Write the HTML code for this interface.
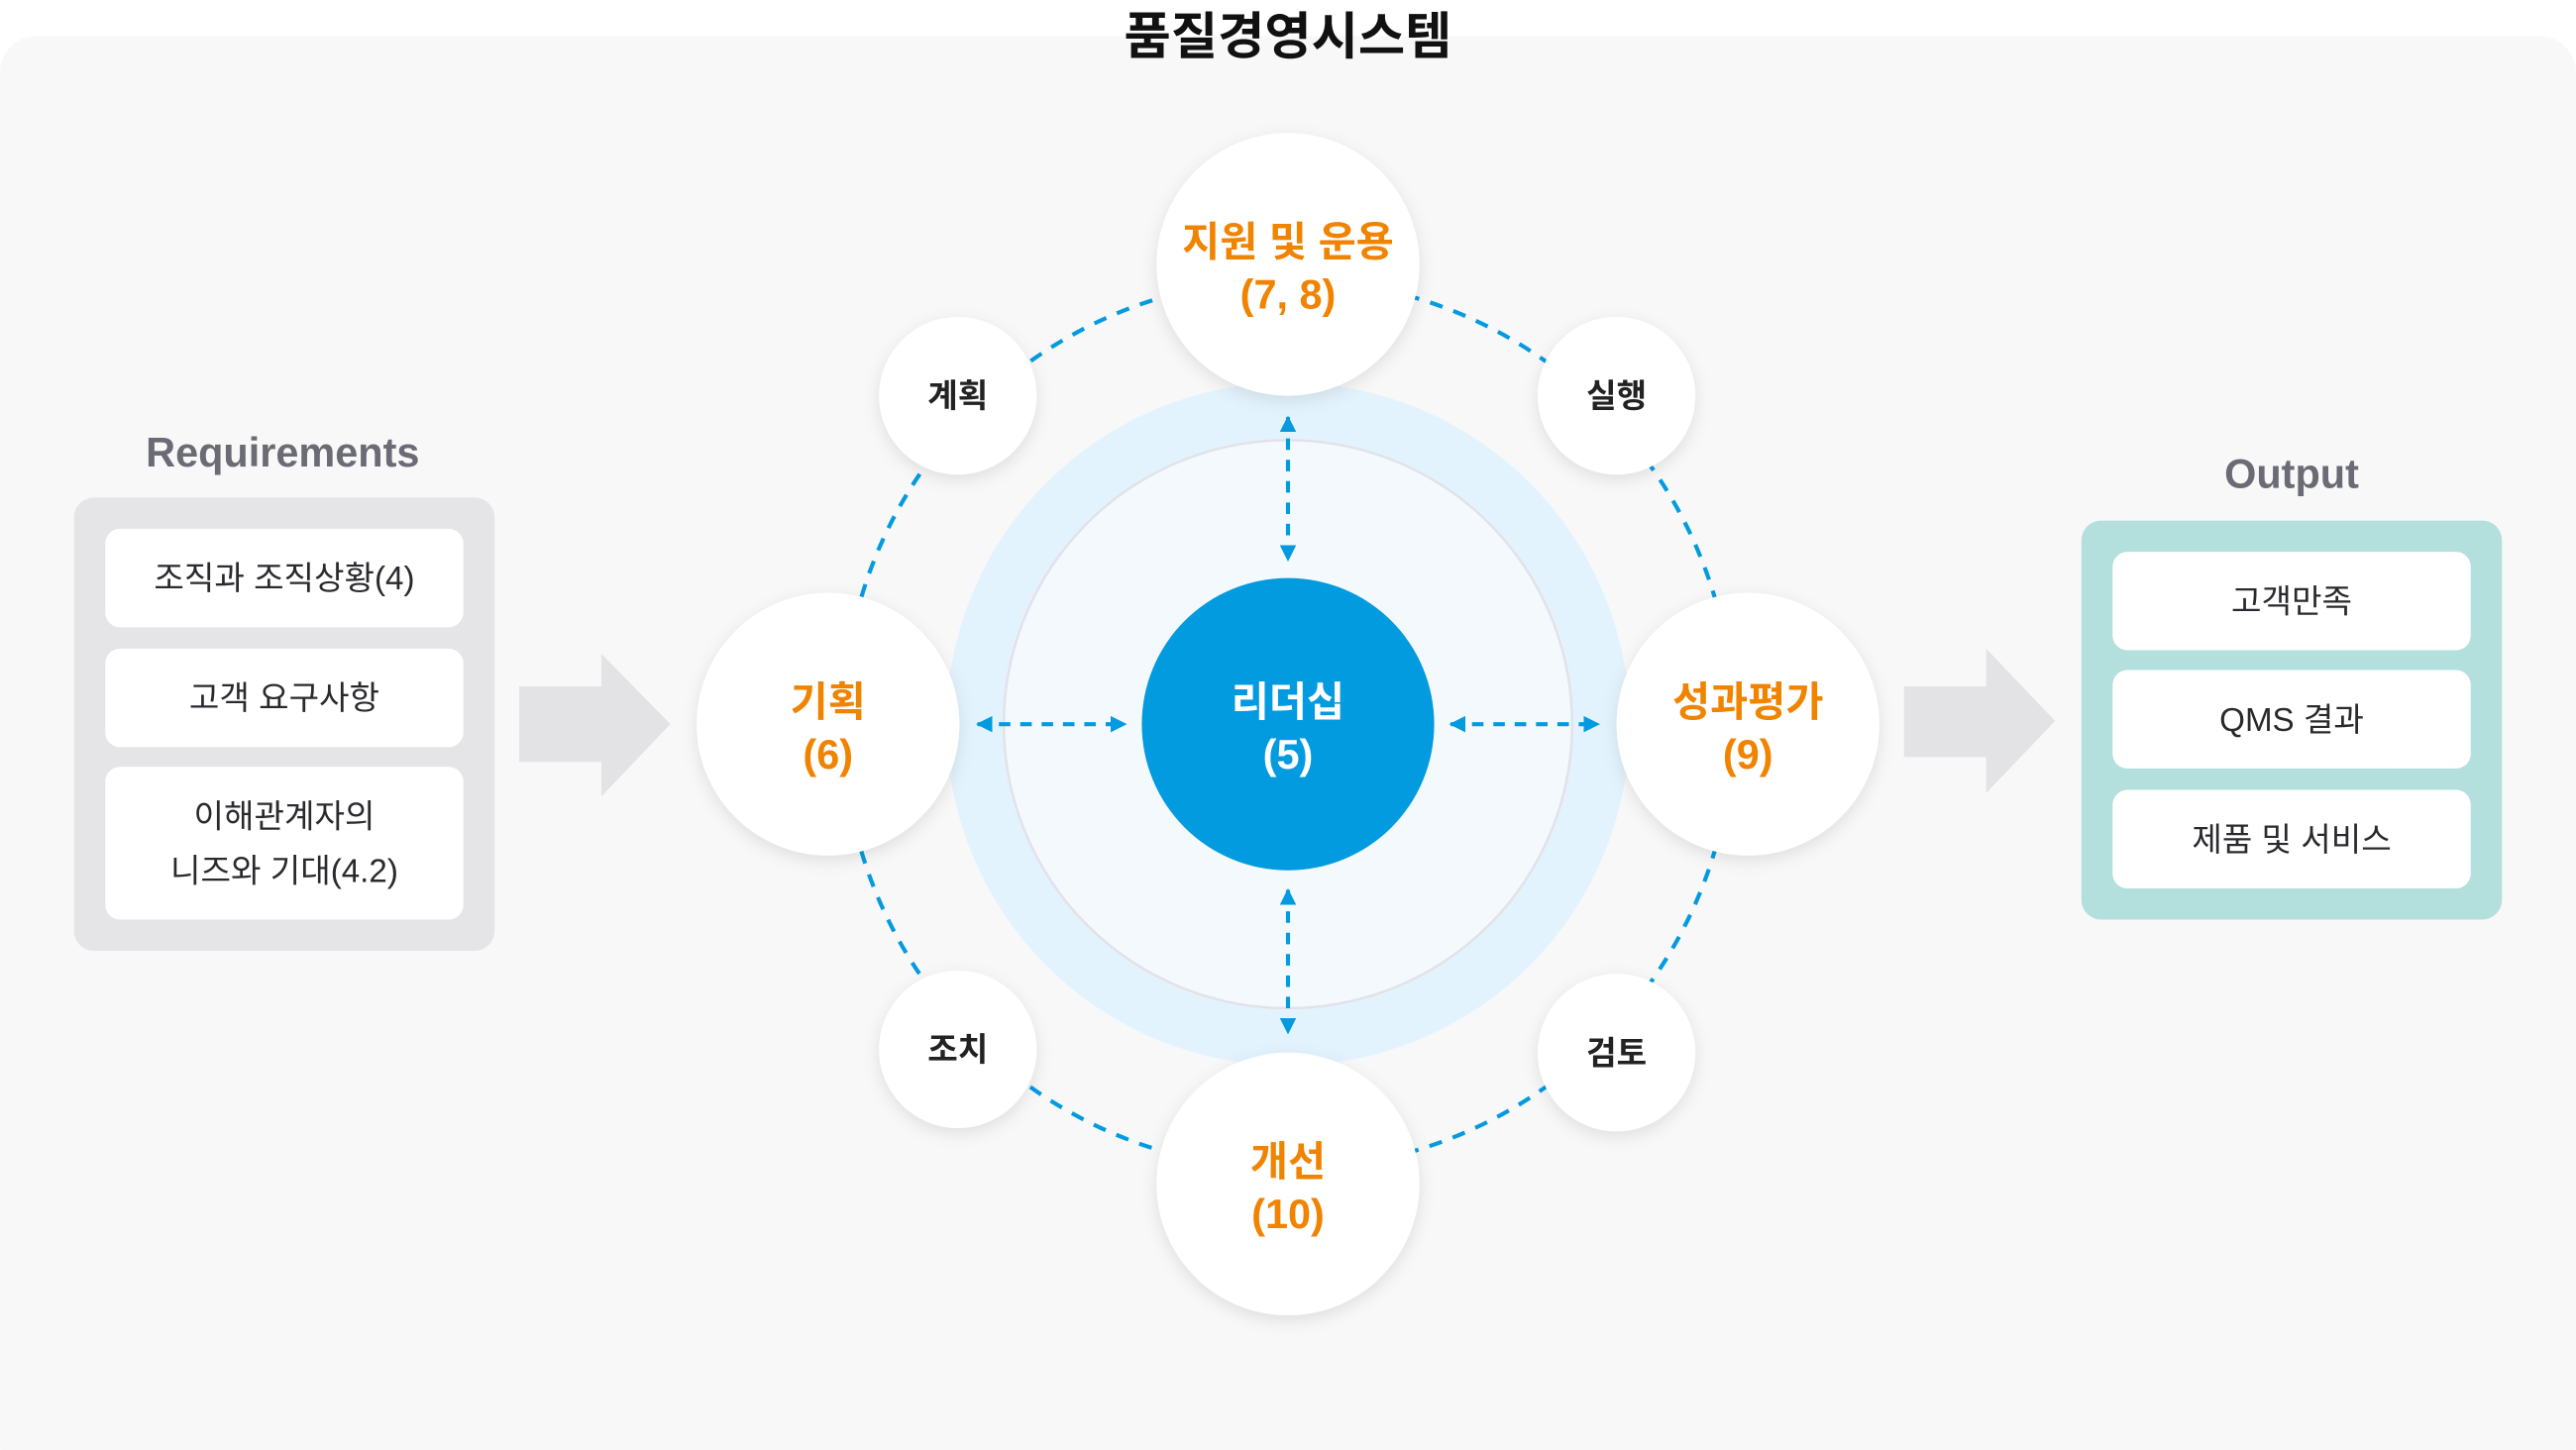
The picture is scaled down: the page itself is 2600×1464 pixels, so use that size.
<!DOCTYPE html>
<html><head><meta charset="utf-8"><style>
html,body{margin:0;padding:0;background:#fff;}
svg{display:block;}
text{font-family:"Liberation Sans","Noto Sans CJK KR",sans-serif;}
</style></head><body>
<svg width="2600" height="1464" viewBox="0 0 1568 883" xmlns="http://www.w3.org/2000/svg">
<defs>
<filter id="sh" x="-30%" y="-30%" width="160%" height="160%"><feDropShadow dx="0" dy="3" stdDeviation="5" flood-color="#000" flood-opacity="0.10"/></filter>
<marker id="ah" viewBox="0 0 10 10" refX="9" refY="5" markerWidth="4" markerHeight="4" orient="auto-start-reverse"><path d="M0,0 L10,5 L0,10 z" fill="#039be0"/></marker>
</defs>
<rect x="0" y="0" width="1568" height="883" fill="#fff"/>
<rect x="0" y="22" width="1568" height="880" rx="22" fill="#f8f8f8"/>
<text x="784" y="33" text-anchor="middle" font-size="31" font-weight="bold" fill="#111">품질경영시스템</text>

<circle cx="784" cy="441" r="208" fill="#e3f3fd"/>
<circle cx="784" cy="441" r="173" fill="#f3f9fd" stroke="#e2e2e8" stroke-width="1.5"/>
<circle cx="784" cy="441" r="271" fill="none" stroke="#039be0" stroke-width="2.5" stroke-dasharray="8 7"/>
<circle cx="784" cy="441" r="89" fill="#039be0"/>
<text x="784" y="436" text-anchor="middle" font-size="25" font-weight="bold" fill="#fff">리더십</text>
<text x="784" y="468" text-anchor="middle" font-size="25" font-weight="bold" fill="#fff">(5)</text>

<g stroke="#039be0" stroke-width="2.5" stroke-dasharray="7 6" marker-start="url(#ah)" marker-end="url(#ah)">
<line x1="784" y1="254" x2="784" y2="341"/>
<line x1="784" y1="542" x2="784" y2="629"/>
<line x1="595" y1="441" x2="685" y2="441"/>
<line x1="883" y1="441" x2="973" y2="441"/>
</g>

<g filter="url(#sh)" fill="#fff">
<circle cx="784" cy="161" r="80"/>
<circle cx="504" cy="441" r="80"/>
<circle cx="1064" cy="441" r="80"/>
<circle cx="784" cy="721" r="80"/>
<circle cx="583" cy="241" r="48"/>
<circle cx="984" cy="241" r="48"/>
<circle cx="583" cy="639" r="48"/>
<circle cx="984" cy="641" r="48"/>
</g>
<g font-size="25" font-weight="bold" fill="#f08300" text-anchor="middle">
<text x="784" y="156">지원 및 운용</text><text x="784" y="188">(7, 8)</text>
<text x="504" y="436">기획</text><text x="504" y="468">(6)</text>
<text x="1064" y="436">성과평가</text><text x="1064" y="468">(9)</text>
<text x="784" y="716">개선</text><text x="784" y="748">(10)</text>
</g>
<g font-size="20" font-weight="bold" fill="#222" text-anchor="middle">
<text x="583" y="248">계획</text>
<text x="984" y="248">실행</text>
<text x="583" y="646">조치</text>
<text x="984" y="648">검토</text>
</g>

<text x="172" y="284" text-anchor="middle" font-size="25" font-weight="bold" fill="#6b6b75">Requirements</text>
<rect x="45" y="303" width="256" height="276" rx="12" fill="#e5e5e8"/>
<rect x="64" y="322" width="218" height="60" rx="9" fill="#fff"/>
<rect x="64" y="395" width="218" height="60" rx="9" fill="#fff"/>
<rect x="64" y="467" width="218" height="93" rx="9" fill="#fff"/>
<g font-size="20" fill="#2a2a2e" text-anchor="middle">
<text x="173" y="359">조직과 조직상황(4)</text>
<text x="173" y="432">고객 요구사항</text>
<text x="173" y="504">이해관계자의</text>
<text x="173" y="537">니즈와 기대(4.2)</text>
</g>
<path d="M316,418 H366 V398 L408,441 L366,485 V464 H316 z" fill="#e3e3e6"/>
<path d="M1159,418 H1209 V395 L1251,439 L1209,483 V461 H1159 z" fill="#e3e3e6"/>

<text x="1395" y="297" text-anchor="middle" font-size="25" font-weight="bold" fill="#6b6b75">Output</text>
<rect x="1267" y="317" width="256" height="243" rx="12" fill="#b3e0dc"/>
<rect x="1286" y="336" width="218" height="60" rx="9" fill="#fff"/>
<rect x="1286" y="408" width="218" height="60" rx="9" fill="#fff"/>
<rect x="1286" y="481" width="218" height="60" rx="9" fill="#fff"/>
<g font-size="20" fill="#2a2a2e" text-anchor="middle">
<text x="1395" y="373">고객만족</text>
<text x="1395" y="445">QMS 결과</text>
<text x="1395" y="518">제품 및 서비스</text>
</g>
</svg>
</body></html>
